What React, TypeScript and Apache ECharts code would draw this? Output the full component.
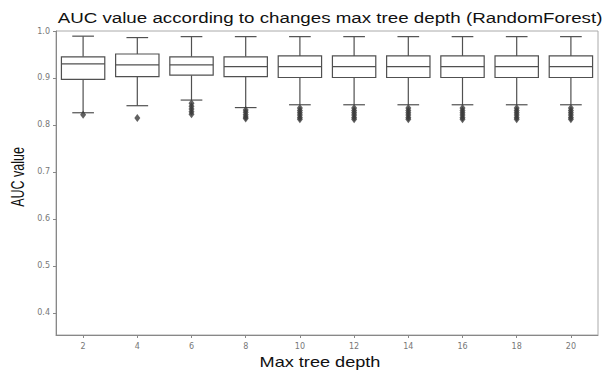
import React, { useEffect, useRef } from "react";
import * as echarts from "echarts";

const categories = ["2", "4", "6", "8", "10", "12", "14", "16", "18", "20"];
const whiskerLow = [0.826, 0.841, 0.853, 0.837, 0.843, 0.843, 0.843, 0.843, 0.843, 0.843];
const q1 = [0.897, 0.903, 0.906, 0.903, 0.901, 0.901, 0.901, 0.901, 0.901, 0.901];
const median = [0.930, 0.928, 0.928, 0.924, 0.924, 0.924, 0.924, 0.924, 0.924, 0.924];
const q3 = [0.945, 0.951, 0.945, 0.945, 0.947, 0.947, 0.947, 0.947, 0.947, 0.947];
const whiskerHigh = [0.989, 0.986, 0.988, 0.988, 0.988, 0.988, 0.988, 0.988, 0.988, 0.988];
const outliers: number[][] = [
  [0.822],
  [0.815],
  [0.846, 0.840, 0.834, 0.828, 0.823],
  [0.832, 0.827, 0.822, 0.817, 0.814],
  [0.836, 0.831, 0.826, 0.821, 0.816, 0.812],
  [0.836, 0.831, 0.826, 0.821, 0.816, 0.812],
  [0.836, 0.831, 0.826, 0.821, 0.816, 0.812],
  [0.836, 0.831, 0.826, 0.821, 0.816, 0.812],
  [0.836, 0.831, 0.826, 0.821, 0.816, 0.812],
  [0.836, 0.831, 0.826, 0.821, 0.816, 0.812],
];
const yTicks = [0.4, 0.5, 0.6, 0.7, 0.8, 0.9, 1.0];

const LINE = "#505050";
const FONT = "Liberation Sans";

export default function App() {
  const ref = useRef<HTMLDivElement>(null);
  useEffect(() => {
    if (!ref.current) return;
    const chart = echarts.init(ref.current, undefined, { renderer: "svg" });
    const boxData = categories.map((_, i) => [i, whiskerLow[i], q1[i], median[i], q3[i], whiskerHigh[i]]);
    const outData: number[][] = [];
    outliers.forEach((arr, i) => arr.forEach((v) => outData.push([i, v])));
    chart.setOption({
      animation: false,
      backgroundColor: "#fff",
      graphic: [
        {
          type: "text",
          x: 330,
          y: 18,
          scaleX: 1.25,
          style: {
            text: "AUC value according to changes max tree depth (RandomForest)",
            fontFamily: FONT,
            fontSize: 15,
            fill: "#111",
            align: "center",
            verticalAlign: "middle",
          },
        },
        {
          type: "text",
          x: 320,
          y: 362,
          scaleX: 1.25,
          style: {
            text: "Max tree depth",
            fontFamily: FONT,
            fontSize: 14.5,
            fill: "#111",
            align: "center",
            verticalAlign: "middle",
          },
        },
        {
          type: "text",
          x: 18,
          y: 177,
          rotation: Math.PI / 2,
          scaleY: 1.4,
          style: {
            text: "AUC value",
            fontFamily: FONT,
            fontSize: 12.5,
            fill: "#111",
            align: "center",
            verticalAlign: "middle",
          },
        },
      ],
      grid: { left: 56, right: 7, top: 31, bottom: 36, show: true, borderColor: "#aaa", borderWidth: 1 },
      xAxis: {
        type: "category",
        data: categories,
        boundaryGap: true,
        axisLine: { show: true, lineStyle: { color: "#888", width: 1 } },
        axisTick: { show: true, alignWithLabel: true, length: 3, lineStyle: { color: "#888" } },
        axisLabel: { fontFamily: "DejaVu Sans", fontSize: 8, color: "#777", margin: 7 },
        splitLine: { show: false },
      },
      yAxis: {
        type: "value",
        min: 0.353,
        max: 1.0,
        axisLine: { show: true, lineStyle: { color: "#888", width: 1 } },
        axisTick: { show: true, length: 3, lineStyle: { color: "#888" }, customValues: yTicks },
        axisLabel: {
          fontFamily: "DejaVu Sans",
          fontSize: 8,
          color: "#777",
          margin: 6,
          customValues: yTicks,
          formatter: (v: number) => v.toFixed(1),
        },
        splitLine: { show: false },
      },
      series: [
        {
          type: "custom",
          data: boxData,
          encode: { x: 0, y: [1, 2, 3, 4, 5] },
          renderItem: (params: any, api: any) => {
            const i = api.value(0);
            const lo = api.coord([i, api.value(1)]);
            const b1 = api.coord([i, api.value(2)]);
            const md = api.coord([i, api.value(3)]);
            const b3 = api.coord([i, api.value(4)]);
            const hi = api.coord([i, api.value(5)]);
            const band = api.size([1, 0])[0];
            const w = band * 0.8;
            const cw = w / 2;
            const x = lo[0];
            const style = { stroke: LINE, lineWidth: 1.2, fill: "none" };
            return {
              type: "group",
              children: [
                { type: "line", shape: { x1: x, y1: b1[1], x2: x, y2: lo[1] }, style },
                { type: "line", shape: { x1: x, y1: b3[1], x2: x, y2: hi[1] }, style },
                { type: "line", shape: { x1: x - cw / 2, y1: lo[1], x2: x + cw / 2, y2: lo[1] }, style },
                { type: "line", shape: { x1: x - cw / 2, y1: hi[1], x2: x + cw / 2, y2: hi[1] }, style },
                {
                  type: "rect",
                  shape: { x: x - w / 2, y: b3[1], width: w, height: b1[1] - b3[1] },
                  style: { stroke: LINE, lineWidth: 1.2, fill: "#fff" },
                },
                { type: "line", shape: { x1: x - w / 2, y1: md[1], x2: x + w / 2, y2: md[1] }, style },
              ],
            };
          },
          z: 2,
        },
        {
          type: "scatter",
          data: outData,
          symbol: "diamond",
          symbolSize: [6, 8],
          itemStyle: { color: "#3a3a3a" },
          z: 3,
        },
      ],
    });
    return () => chart.dispose();
  }, []);
  return <div ref={ref} style={{ position: "absolute", left: 0, top: 0, width: 605, height: 371 }} />;
}
